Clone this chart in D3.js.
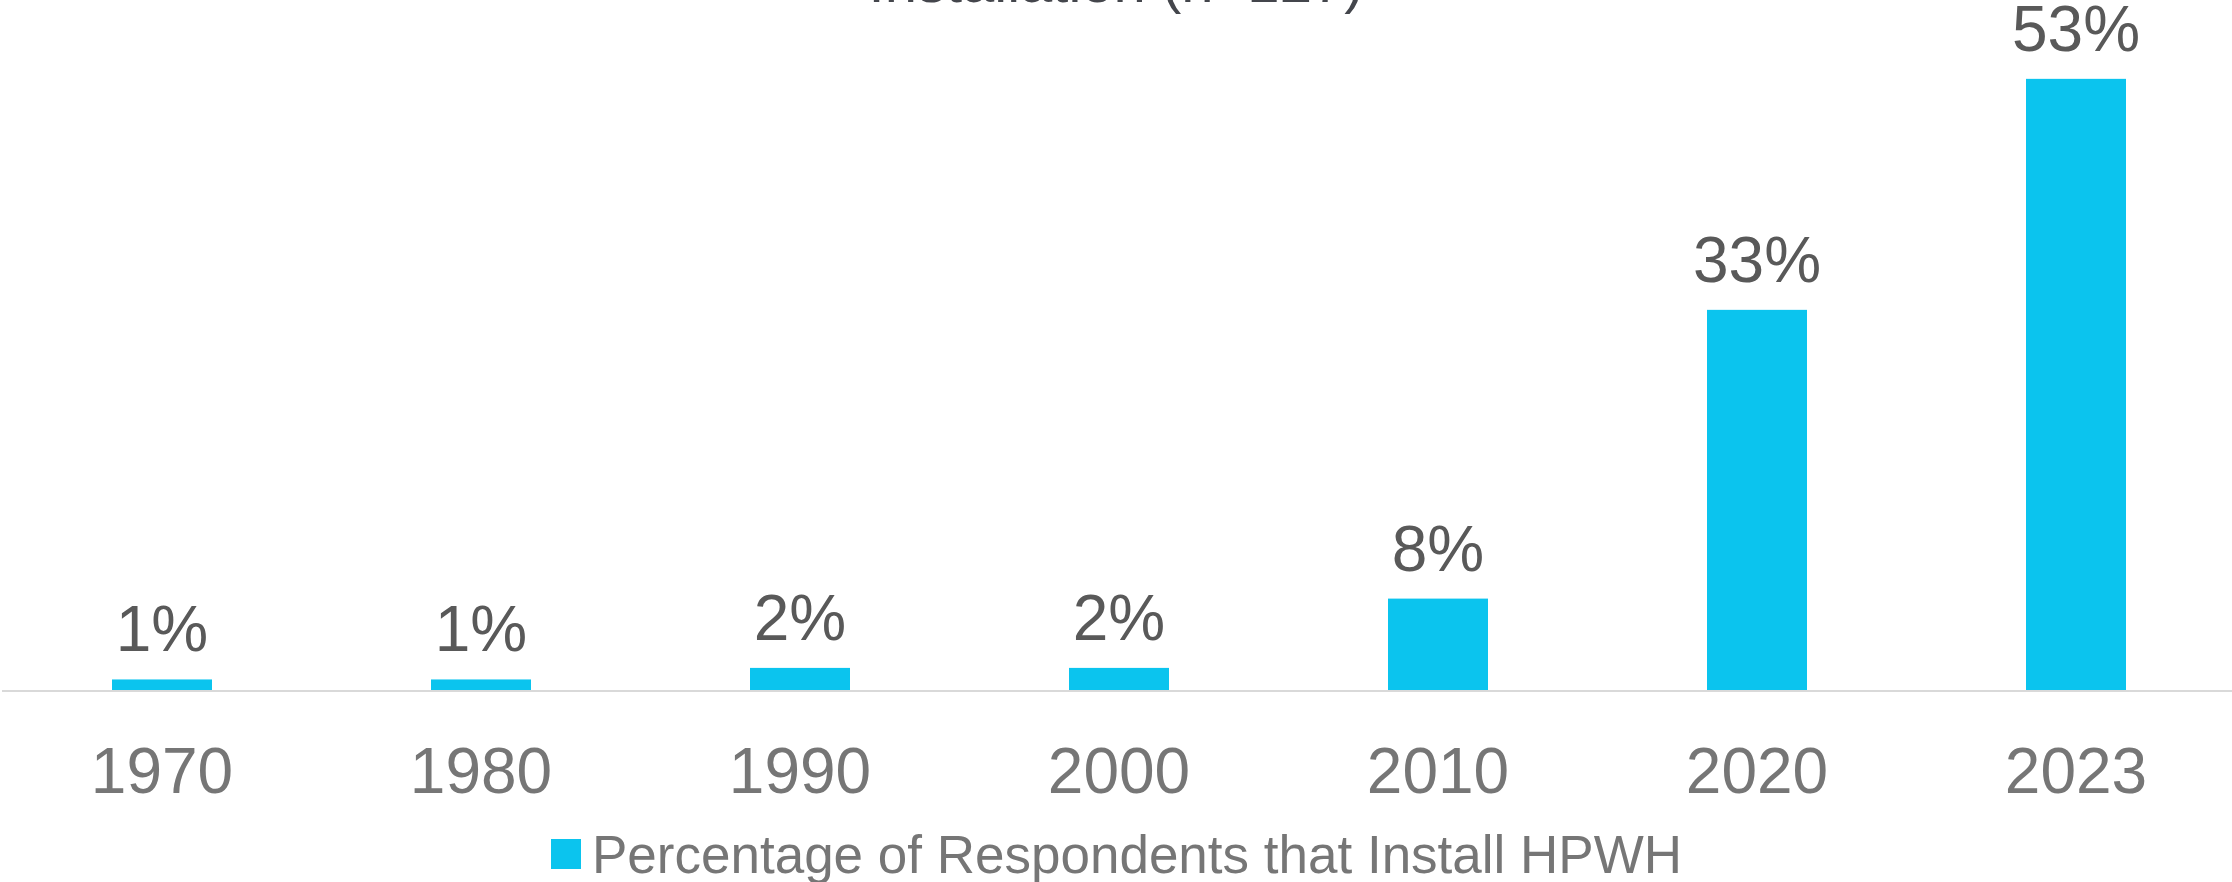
<!DOCTYPE html>
<html>
<head>
<meta charset="utf-8">
<script src="https://cdn.jsdelivr.net/npm/d3@7"></script>
<style>
  html, body { margin: 0; padding: 0; background: #ffffff; }
  svg { display: block; }
  text { font-family: "Liberation Sans", Arial, sans-serif; }
</style>
</head>
<body>
<svg id="chart" width="2232" height="882"></svg>
<script>
// ---- data ----
const categories = ["1970", "1980", "1990", "2000", "2010", "2020", "2023"];
const values = [1, 1, 2, 2, 8, 33, 53];
const valueLabels = ["1%", "1%", "2%", "2%", "8%", "33%", "53%"];
const seriesName = "Percentage of Respondents that Install HPWH";
const titleLastLine = "Installation (n=127)";

// ---- layout ----
const W = 2232, H = 882;
const baseY = 691;
const svg = d3.select("#chart");

const pad = 1 - 100 / 319;
const x = d3.scaleBand()
  .domain(categories)
  .range([2.5, 2235.5])
  .paddingInner(pad)
  .paddingOuter(pad / 2);

const y = d3.scaleLinear()
  .domain([0, 60])
  .range([baseY, baseY - 60 * 11.55]);

const barColor = "#0bc4ee";

// title (cut off at the top in the reference)
svg.append("text")
  .attr("x", W / 2)
  .attr("y", 2)
  .attr("text-anchor", "middle")
  .attr("font-size", 58)
  .attr("fill", "#44464c")
  .text(titleLastLine);

// bars
svg.append("g").selectAll("rect")
  .data(values)
  .join("rect")
  .attr("x", (d, i) => x(categories[i]))
  .attr("width", x.bandwidth())
  .attr("y", d => y(d))
  .attr("height", d => y(0) - y(d))
  .attr("fill", barColor);

// axis line
svg.append("line")
  .attr("x1", 2).attr("x2", W)
  .attr("y1", y(0)).attr("y2", y(0))
  .attr("stroke", "#d9d9d9")
  .attr("stroke-width", 2);

// value labels
svg.append("g").selectAll("text")
  .data(values)
  .join("text")
  .attr("x", (d, i) => x(categories[i]) + x.bandwidth() / 2)
  .attr("y", d => y(d) - 28)
  .attr("text-anchor", "middle")
  .attr("font-size", 64)
  .attr("fill", "#595959")
  .text((d, i) => valueLabels[i]);

// category axis
const xAxis = d3.axisBottom(x).tickSize(0).tickPadding(0);
const gx = svg.append("g")
  .attr("transform", `translate(0,${baseY})`)
  .call(xAxis);
gx.select(".domain").remove();
gx.selectAll("text")
  .attr("y", 102)
  .attr("dy", 0)
  .attr("font-size", 64)
  .attr("fill", "#767676")
  .style("font-family", "\"Liberation Sans\", Arial, sans-serif");

// legend
const lg = svg.append("g");
lg.append("rect")
  .attr("x", 551).attr("y", 839)
  .attr("width", 30).attr("height", 30)
  .attr("fill", barColor);
lg.append("text")
  .attr("x", 592)
  .attr("y", 873)
  .attr("font-size", 53)
  .attr("fill", "#767676")
  .text(seriesName);
</script>
</body>
</html>
